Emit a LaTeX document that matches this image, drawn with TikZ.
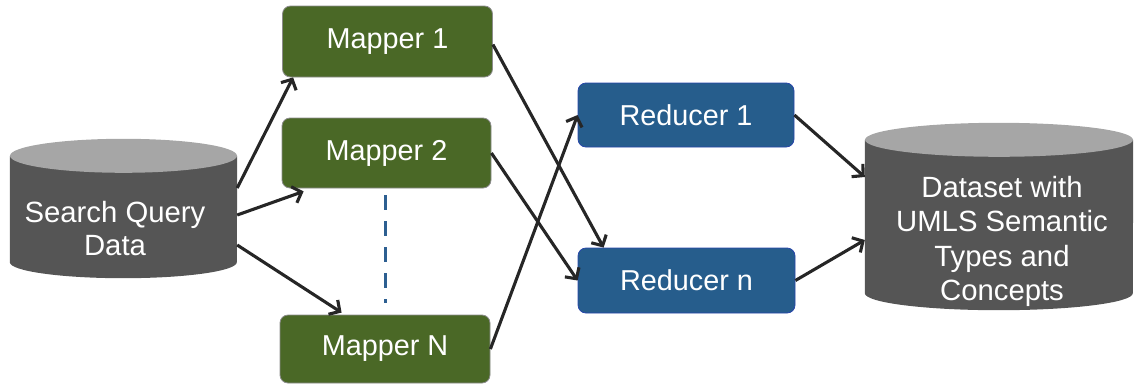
\documentclass[tikz,border=0pt]{standalone}
\usepackage{fontspec}
\setmainfont{Liberation Sans}
\usetikzlibrary{arrows.meta}
\definecolor{mapgreen}{RGB}{74,104,38}
\definecolor{redblue}{RGB}{38,93,140}
\definecolor{redborder}{RGB}{40,70,170}
\definecolor{cylbody}{RGB}{85,85,85}
\definecolor{cyltop}{RGB}{166,166,166}
\definecolor{arrowc}{RGB}{38,38,38}
\definecolor{dashblue}{RGB}{45,95,145}
\begin{document}
\begin{tikzpicture}[x=1pt,y=-1pt,
  boxtext/.style={text=white, font=\fontsize{28.8}{33}\selectfont, inner sep=0pt},
  mapbox/.style={boxtext, draw=black!45, line width=0.8pt, fill=mapgreen, rounded corners=8pt},
  redbox/.style={boxtext, draw=redborder, line width=0.8pt, fill=redblue, rounded corners=8pt},
  cylarea/.style={inner sep=0pt, draw=none},
  cyllabel/.style={text=white, align=center, font=\fontsize{29.3}{34.5}\selectfont, inner sep=0pt},
  flow/.style={draw=arrowc, line width=3.1pt, -{Straight Barb[length=8pt,width=17pt]}},
  dots/.style={draw=dashblue, line width=3pt, dash pattern=on 15pt off 11pt}
]
\useasboundingbox (0,0) rectangle (1137,386);

% left cylinder
\node[cylarea, minimum width=227pt, minimum height=106pt] (sq) at (123.5,209) {};
\fill[cylbody] (sq.north west) -- (sq.south west)
  arc[start angle=180, end angle=0, x radius=113.5, y radius=16] -- (sq.north east) -- cycle;
\fill[cyltop] (sq.north) ellipse [x radius=113.5, y radius=17];
\node[cyllabel, font=\fontsize{29.3}{33.5}\selectfont] (sqlabel) at (115,228.5) {Search Query\\Data};

% right cylinder
\node[cylarea, minimum width=268pt, minimum height=153pt] (ds) at (999,216.5) {};
\fill[cylbody] (ds.north west) -- (ds.south west)
  arc[start angle=180, end angle=0, x radius=134, y radius=17] -- (ds.north east) -- cycle;
\fill[cyltop] (ds.north) ellipse [x radius=134, y radius=17];
\node[cyllabel] (dslabel) at (1002,241.5) {Dataset with\\UMLS Semantic\\Types and\\Concepts};

% mappers
\node[mapbox, minimum width=210pt, minimum height=71pt] (m1) at (387.5,41.5) {Mapper 1};
\node[mapbox, minimum width=209pt, minimum height=70pt] (m2) at (386.5,153) {Mapper 2};
\node[mapbox, minimum width=210pt, minimum height=68pt] (mN) at (385,349) {Mapper N};

% reducers
\node[redbox, minimum width=216pt, minimum height=64pt] (r1) at (686,115) {Reducer 1};
\node[redbox, minimum width=217pt, minimum height=65pt] (rn) at (686.5,280.5) {Reducer n};

% dashed ellipsis
\draw[dots] ([xshift=-1.5pt,yshift=-7pt]m2.south) -- ([yshift=12pt]mN.north);

% connectors
\draw[flow] ([yshift=21pt]sq.east) -- ([xshift=11pt]m1.south west);
\draw[flow] ([yshift=-6pt]sq.east) -- ([xshift=22pt,yshift=-3pt]m2.south west);
\draw[flow] ([yshift=-36pt]sq.east) -- ([xshift=62pt,yshift=2pt]mN.north west);
\draw[flow] ([yshift=-3pt]m1.east) -- ([xshift=26pt]rn.north west);
\draw[flow] (m2.east) -- (rn.west);
\draw[flow] (mN.east) -- (r1.west);
\draw[flow] (r1.east) -- ([yshift=39.5pt]ds.west);
\draw[flow] (rn.east) -- ([yshift=-23.5pt]ds.west);
\end{tikzpicture}
\end{document}
